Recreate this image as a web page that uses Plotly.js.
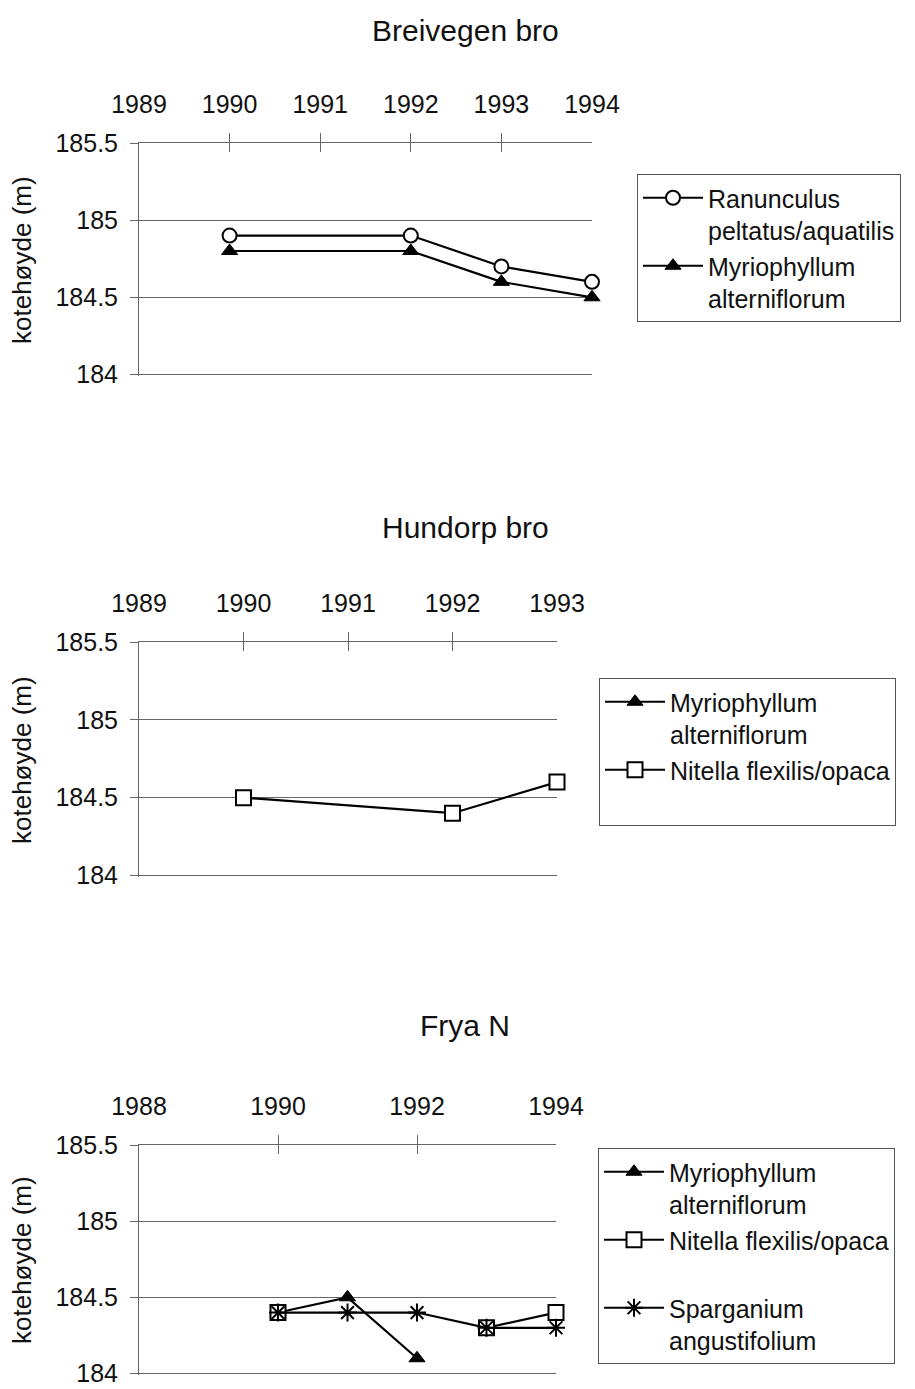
<!DOCTYPE html>
<html>
<head>
<meta charset="utf-8">
<script src="https://cdn.plot.ly/plotly-3.0.1.min.js"></script>
<style>html,body{margin:0;padding:0;background:#fff;}#chart{width:915px;height:1389px;}</style>
</head>
<body>
<div id="chart"></div>
<script>
// ---- data ----
const chartTitles = ["Breivegen bro", "Hundorp bro", "Frya N"];
const yTitle = "kotehøyde (m)";

// Breivegen bro
const years1 = [1990, 1992, 1993, 1994];
const ranunculus1 = [184.9, 184.9, 184.7, 184.6];
const myriophyllum1 = [184.8, 184.8, 184.6, 184.5];

// Hundorp bro
const years2 = [1990, 1992, 1993];
const myriophyllum2 = [null, null, null];
const nitella2 = [184.5, 184.4, 184.6];

// Frya N
const years3 = [1990, 1991, 1992, 1993, 1994];
const myriophyllum3 = [184.4, 184.5, 184.1, null, null];
const nitella3 = [184.4, null, null, 184.3, 184.4];
const sparganium3 = [184.4, 184.4, 184.4, 184.3, 184.3];

const names = {
  ran: "Ranunculus<br>peltatus/aquatilis",
  myr: "Myriophyllum<br>alterniflorum",
  nit: "Nitella flexilis/opaca<br>\u00a0",
  spa: "Sparganium<br>angustifolium"
};

const xRanges = [[1989, 1994], [1989, 1993], [1988, 1994]];
const xDticks = [1, 1, 2];
const yRange = [183.99, 185.5];
const yTicks = [184, 184.5, 185, 185.5];

// ---- styles ----
const FONT = "Liberation Sans, Arial, sans-serif";
const LINE = {color: "#000", width: 2.2};
const mk = {
  circle: {symbol: "circle", size: 14, color: "#fff", line: {color: "#000", width: 2}},
  tri: {symbol: "triangle-up", size: 14, color: "#000", line: {color: "#000", width: 1}},
  square: {symbol: "square", size: 15, color: "#fff", line: {color: "#000", width: 2}},
  star: {symbol: "asterisk-open", size: 15, color: "#000", line: {color: "#000", width: 2}}
};

function tr(x, y, name, marker, xa, ya, leg) {
  return {type: "scatter", mode: "lines+markers", x: x, y: y, name: name,
    line: LINE, marker: marker, xaxis: xa, yaxis: ya, legend: leg,
    connectgaps: false, cliponaxis: false, hoverinfo: "skip"};
}

const data = [
  tr(years1, ranunculus1, names.ran, mk.circle, "x", "y", "legend"),
  tr(years1, myriophyllum1, names.myr, mk.tri, "x", "y", "legend"),
  tr(years2, myriophyllum2, names.myr, mk.tri, "x2", "y2", "legend2"),
  tr(years2, nitella2, names.nit, mk.square, "x2", "y2", "legend2"),
  tr(years3, myriophyllum3, names.myr, mk.tri, "x3", "y3", "legend3"),
  tr(years3, nitella3, names.nit, mk.square, "x3", "y3", "legend3"),
  tr(years3, sparganium3, names.spa, mk.star, "x3", "y3", "legend3")
];

const W = 915, H = 1389;
const px = v => v / W, py = v => 1 - v / H;

const GRID = "#666";
function xAxis(i, dom, anchor) {
  return {domain: dom, anchor: anchor, side: "top", range: xRanges[i], dtick: xDticks[i], tick0: xRanges[i][0],
    showgrid: false, zeroline: false, showline: true, linecolor: GRID, linewidth: 1,
    ticks: "inside", ticklen: 9, tickwidth: 1, tickcolor: GRID,
    minor: {ticks: "outside", ticklen: 9, tickwidth: 1, tickcolor: GRID, dtick: xDticks[i],
            tick0: xRanges[i][0] + 0.002, showgrid: false},
    ticklabelstandoff: 19, ticklabeloverflow: "allow",
    tickfont: {family: FONT, size: 25, color: "#111"}, automargin: false, fixedrange: true};
}
function yAxis(dom, anchor) {
  return {domain: dom, anchor: anchor, range: yRange, tickvals: yTicks, ticktext: yTicks.map(String),
    showgrid: true, gridcolor: GRID, gridwidth: 1, zeroline: false,
    showline: true, linecolor: GRID, linewidth: 1,
    ticks: "outside", ticklen: 8, tickwidth: 1, tickcolor: GRID,
    ticklabelstandoff: 7, ticklabeloverflow: "allow",
    tickfont: {family: FONT, size: 25, color: "#111"}, automargin: false, fixedrange: true};
}
function legend(x, y) {
  return {x: x, y: y, xanchor: "left", yanchor: "top", xref: "paper", yref: "paper",
    bgcolor: "#fff", bordercolor: "#555", borderwidth: 1,
    font: {family: FONT, size: 25, color: "#111"}, valign: "top",
    itemwidth: 60, tracegroupgap: 0, traceorder: "normal"};
}

const xd1 = [px(139), px(592)], xd2 = [px(139), px(557)], xd3 = [px(139), px(556)];
const yd1 = [py(376), py(143)], yd2 = [py(877), py(642)], yd3 = [py(1375), py(1145)];

const titleY = [30, 527, 1025];
const yTitleY = [260, 760, 1260];

const annotations = [];
chartTitles.forEach((t, i) => {
  annotations.push({text: t, x: px(465), y: py(titleY[i]), xref: "paper", yref: "paper",
    xanchor: "center", yanchor: "middle", showarrow: false, font: {family: FONT, size: 30, color: "#111"}});
  annotations.push({text: yTitle, x: px(22), y: py(yTitleY[i]), xref: "paper", yref: "paper",
    xanchor: "center", yanchor: "middle", textangle: -90, showarrow: false, font: {family: FONT, size: 26, color: "#111"}});
});

const layout = {
  width: W, height: H,
  margin: {l: 0, r: 0, t: 0, b: 0, autoexpand: false},
  paper_bgcolor: "#fff", plot_bgcolor: "#fff",
  font: {family: FONT, color: "#111"},
  xaxis: xAxis(0, xd1, "y"), yaxis: yAxis(yd1, "x"),
  xaxis2: xAxis(1, xd2, "y2"), yaxis2: yAxis(yd2, "x2"),
  xaxis3: xAxis(2, xd3, "y3"), yaxis3: yAxis(yd3, "x3"),
  legend: legend(px(637), py(174)),
  legend2: legend(px(599), py(678)),
  legend3: legend(px(598), py(1148)),
  annotations: annotations,
  showlegend: true
};

Plotly.newPlot("chart", data, layout, {staticPlot: true, displayModeBar: false});
</script>
</body>
</html>
